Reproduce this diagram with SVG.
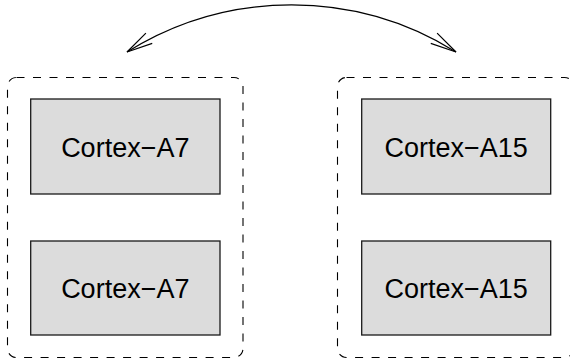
<svg xmlns="http://www.w3.org/2000/svg" width="570" height="361" viewBox="0 0 570 361">
  <style>
    .cluster { fill: none; stroke: #000; stroke-width: 1.1; stroke-dasharray: 8 8.5; }
    .core rect { fill: #dcdcdc; stroke: #1a1a1a; stroke-width: 1.3; }
    .core text { font-family: "Liberation Sans", Arial, sans-serif; font-size: 27px; fill: #000; text-anchor: middle; }
    .link { fill: none; stroke: #000; stroke-width: 1.2; }
  </style>
  <defs>
    <marker id="open" viewBox="-28 -8 30 16" refX="0" refY="0" markerWidth="30" markerHeight="16" markerUnits="userSpaceOnUse" orient="auto-start-reverse">
      <path d="M -26 -6 L 0 0 L -26 6" fill="none" stroke="#000" stroke-width="1.2"/>
    </marker>
  </defs>
  <rect id="cluster-a7" class="cluster" x="7.5" y="77.5" width="235.5" height="280" rx="9" ry="9"/>
  <rect id="cluster-a15" class="cluster" x="337.5" y="77.5" width="236" height="280" rx="9" ry="9"/>
  <g id="a7-1" class="core">
    <rect x="30.7" y="99" width="189.3" height="95"/>
    <text x="125.3" y="156.5">Cortex−A7</text>
  </g>
  <g id="a7-2" class="core">
    <rect x="30.7" y="241" width="189.3" height="94"/>
    <text x="125.3" y="297.7">Cortex−A7</text>
  </g>
  <g id="a15-1" class="core">
    <rect x="361.7" y="99" width="189" height="95"/>
    <text x="456.2" y="156.5">Cortex−A15</text>
  </g>
  <g id="a15-2" class="core">
    <rect x="361.7" y="241" width="189" height="94"/>
    <text x="456.2" y="297.7">Cortex−A15</text>
  </g>
  <g id="connectors">
    <path class="link" d="M 127 52 A 311 311 0 0 1 456 52" marker-start="url(#open)" marker-end="url(#open)"/>
  </g>
</svg>
